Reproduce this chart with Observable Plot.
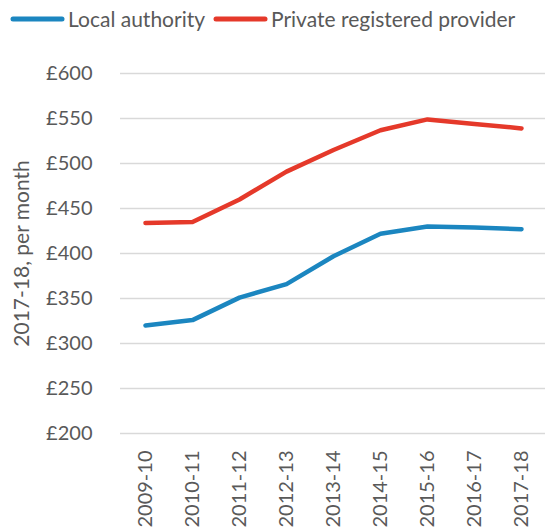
<!DOCTYPE html>
<html>
<head>
<meta charset="utf-8">
<script src="https://cdn.jsdelivr.net/npm/d3@7"></script>
<script src="https://cdn.jsdelivr.net/npm/@observablehq/plot@0.6"></script>
<style>
  body { margin: 0; background: #fff; font-family: Lato, "Open Sans", sans-serif; color: #595959; }
  #legend { height: 40px; position: relative; font-size: 21px; }
  .item { position: absolute; top: 6px; display: flex; align-items: center; white-space: nowrap; }
  .item svg { margin-right: 3px; }
  svg.plot { display: block; }
</style>
</head>
<body>
<div id="legend"></div>
<div id="chart"></div>
<script>
const years = ["2009-10","2010-11","2011-12","2012-13","2013-14","2014-15","2015-16","2016-17","2017-18"];
const localAuthority = [320, 326, 351, 366, 397, 422, 430, 429, 427];
const privateProvider = [434, 435, 460, 491, 515, 537, 549, 544, 539];
const seriesNames = ["Local authority", "Private registered provider"];
const seriesColors = ["#1b86c0", "#e5392a"];
const yTicks = [200, 250, 300, 350, 400, 450, 500, 550, 600];

const data = [];
years.forEach((y, i) => {
  data.push({year: y, value: localAuthority[i], series: seriesNames[0]});
  data.push({year: y, value: privateProvider[i], series: seriesNames[1]});
});

// Legend
const legend = document.getElementById("legend");
const lefts = [10, 213];
seriesNames.forEach((name, i) => {
  const d = document.createElement("div");
  d.className = "item";
  d.style.left = lefts[i] + "px";
  d.innerHTML = `<svg width="55" height="10"><line x1="3" y1="5" x2="52" y2="5" stroke="${seriesColors[i]}" stroke-width="5" stroke-linecap="round"/></svg><span>${name}</span>`;
  legend.appendChild(d);
});

const chart = Plot.plot({
  width: 545,
  height: 488,
  marginLeft: 120,
  marginRight: 0,
  marginTop: 33,
  marginBottom: 95,
  style: {fontFamily: "Lato, 'Open Sans', sans-serif", fontSize: "20px", color: "#595959", background: "#fff"},
  x: {type: "point", domain: years, padding: 0.465},
  y: {domain: [200, 600]},
  color: {domain: seriesNames, range: seriesColors},
  marks: [
    Plot.gridY(yTicks, {stroke: "#d9d9d9", strokeOpacity: 1, strokeWidth: 1.5}),
    Plot.axisY(yTicks, {tickSize: 0, tickPadding: 28, tickFormat: d => "£" + d, label: null, fill: "#595959"}),
    Plot.axisY({tickSize: 0, ticks: [], label: "2017-18, per month", labelArrow: "none", labelAnchor: "center", labelOffset: 106, fill: "#595959", fontSize: "21px"}),
    Plot.axisX({tickSize: 0, tickPadding: 17, tickRotate: -90, label: null, fill: "#595959"}),
    Plot.line(data, {x: "year", y: "value", z: "series", stroke: "series", strokeWidth: 4.5, strokeLinecap: "round", strokeLinejoin: "round"})
  ]
});
document.getElementById("chart").appendChild(chart);
</script>
</body>
</html>
